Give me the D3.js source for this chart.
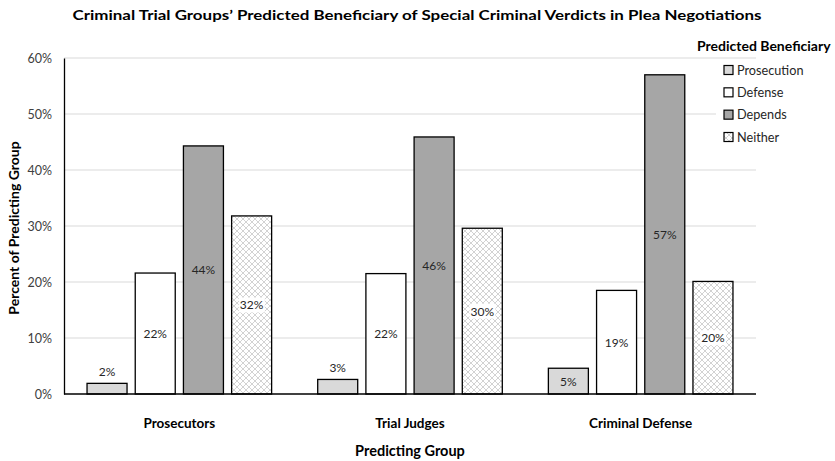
<!DOCTYPE html>
<html><head><meta charset="utf-8">
<script src="https://cdn.jsdelivr.net/npm/d3@7"></script>
<style>
body{margin:0;background:#fff;}
text{font-family:Lato,"Open Sans",sans-serif;}
</style></head>
<body><svg id="c" width="835" height="461"></svg>
<script>
const groups = ["Prosecutors", "Trial Judges", "Criminal Defense"];
const series = ["Prosecution", "Defense", "Depends", "Neither"];
const prosecution = [1.9, 2.6, 4.6];
const defense = [21.6, 21.5, 18.5];
const depends = [44.3, 45.9, 57.0];
const neither = [31.8, 29.6, 20.1];
const labels = [["2%","22%","44%","32%"],["3%","22%","46%","30%"],["5%","19%","57%","20%"]];
const yTicks = [0,10,20,30,40,50,60];
const title = "Criminal Trial Groups\u2019 Predicted Beneficiary of Special Criminal Verdicts in Plea Negotiations";

const values = [prosecution, defense, depends, neither];
const svg = d3.select("#c");
const m = {l:64, r:756, t:58, b:394};

const defs = svg.append("defs");
const P = 6;
const pat = defs.append("pattern").attr("id","hatch").attr("patternUnits","userSpaceOnUse")
  .attr("width",P).attr("height",P);
pat.append("rect").attr("width",P).attr("height",P).attr("fill","#fff");
pat.append("path").attr("d",`M0,0 L${P},${P} M${P},0 L0,${P}`).attr("stroke","#d2d2d2").attr("stroke-width",1);

const x0 = d3.scaleBand().domain(groups).range([m.l, m.r]).paddingInner(0).paddingOuter(0);
const x1 = d3.scaleBand().domain(series).range([0, x0.bandwidth()]).paddingInner(0.17).paddingOuter(0.478);
const y = d3.scaleLinear().domain([0,60]).range([m.b, m.t]);

// gridlines
svg.append("g").selectAll("line").data(yTicks.filter(d=>d>0)).join("line")
  .attr("x1",m.l).attr("x2",m.r).attr("y1",d=>y(d)).attr("y2",d=>y(d))
  .attr("stroke","#d9d9d9").attr("stroke-width",1);

// y axis
const yAxis = d3.axisLeft(y).tickValues(yTicks).tickFormat(d=>d+"%").tickSize(0).tickPadding(12);
const ya = svg.append("g").attr("transform",`translate(${m.l},0)`).call(yAxis);
ya.select(".domain").attr("stroke","#000").attr("stroke-width",1.3);
ya.selectAll("text").attr("font-size",12.5).attr("fill","#404040").style("font-family","Lato,sans-serif");

const fills = {Prosecution:"#d9d9d9", Defense:"#ffffff", Depends:"#a6a6a6", Neither:"url(#hatch)"};

const data = [];
groups.forEach((g,gi)=>series.forEach((s,si)=>data.push({g,s,v:values[si][gi],lab:labels[gi][si]})));

const bars = svg.append("g");
bars.selectAll("rect").data(data).join("rect")
  .attr("x",d=>x0(d.g)+x1(d.s)).attr("width",x1.bandwidth())
  .attr("y",d=>y(d.v)).attr("height",d=>y(0)-y(d.v))
  .attr("fill",d=>fills[d.s]).attr("stroke","#000").attr("stroke-width",1.3);

svg.append("g").selectAll("text").data(data).join("text")
  .attr("x",d=>x0(d.g)+x1(d.s)+x1.bandwidth()/2)
  .attr("y",d=>{const h=y(0)-y(d.v); return h<18 ? y(d.v)-7 : (y(d.v)+y(0))/2+4.5;})
  .attr("text-anchor","middle").attr("font-size",12).attr("fill","#262626")
  .text(d=>d.lab)
  .each(function(d){
    if(d.s==="Neither"){
      const bb=this.getBBox();
      d3.select(this.parentNode).insert("rect",()=>this).attr("x",bb.x-1).attr("y",bb.y).attr("width",bb.width+2).attr("height",bb.height).attr("fill","#fff");
    }
  });

// x axis line
svg.append("line").attr("x1",m.l).attr("x2",m.r).attr("y1",m.b).attr("y2",m.b).attr("stroke","#000").attr("stroke-width",1.3);
svg.append("g").selectAll("text").data(groups).join("text")
  .attr("x",d=>x0(d)+x0.bandwidth()/2).attr("y",428).attr("text-anchor","middle")
  .attr("font-size",13.5).attr("font-weight","bold").attr("fill","#000").text(d=>d);

// titles
svg.append("text").attr("x",417).attr("y",20).attr("text-anchor","middle").attr("font-size",14)
  .attr("font-weight","bold").attr("textLength",689).attr("lengthAdjust","spacingAndGlyphs").text(title);
svg.append("text").attr("x",410).attr("y",456).attr("text-anchor","middle").attr("font-size",14.5)
  .attr("font-weight","bold").text("Predicting Group");
svg.append("text").attr("transform","translate(19,228) rotate(-90)").attr("text-anchor","middle")
  .attr("font-size",14).attr("font-weight","bold").text("Percent of Predicting Group");

// legend
const lg = svg.append("g");
lg.append("rect").attr("x",716).attr("y",60).attr("width",119).attr("height",88).attr("fill","#fff");
lg.append("text").attr("x",697).attr("y",51).attr("font-size",14).attr("font-weight","bold").text("Predicted Beneficiary");
const ly = d3.scalePoint().domain(series).range([70,137]);
series.forEach(s=>{
  lg.append("rect").attr("x",724).attr("y",ly(s)-4.5).attr("width",9).attr("height",9)
    .attr("fill",fills[s]).attr("stroke","#000").attr("stroke-width",1.2);
  lg.append("text").attr("x",737).attr("y",ly(s)+4.5).attr("font-size",12.7).attr("fill","#262626").text(s);
});
</script></body></html>
